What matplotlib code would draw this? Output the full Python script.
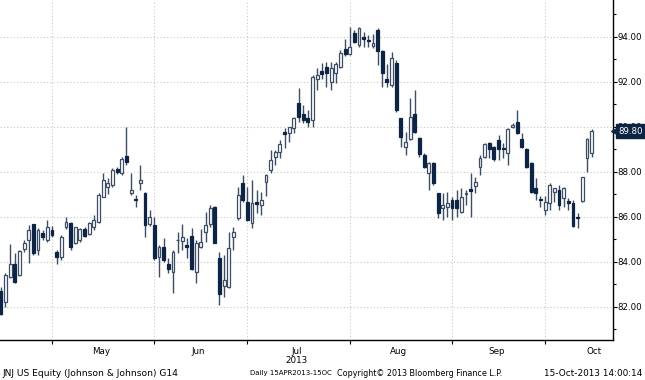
import numpy as np
import matplotlib
matplotlib.use('Agg')
import matplotlib.pyplot as plt
from matplotlib.ticker import MultipleLocator, FixedLocator, NullFormatter, FixedFormatter
import matplotlib.transforms as mtransforms

# Daily OHLC, JNJ US Equity, 15 Apr 2013 - 15 Oct 2013 (trading-day index)
opens = [83.0, 82.72, 82.23, 83.34, 83.9, 83.41, 84.55, 84.97, 85.66, 84.52,
         85.26, 84.97, 85.41, 84.45, 84.23, 85.53, 85.74, 84.82, 84.97, 85.44,
         85.23, 85.53, 85.78, 86.89, 87.3, 87.41, 88.1, 87.93, 88.7, 87.07,
         86.8, 87.48, 87.07, 85.68, 85.63, 84.23, 84.67, 83.9, 83.56, 84.95,
         84.94, 84.75, 85.15, 83.56, 84.67, 85.34, 85.7, 86.42, 84.15, 82.93,
         82.9, 85.12, 85.93, 87.48, 86.67, 85.71, 86.67, 86.52, 87.56, 88.08,
         88.64, 88.89, 89.78, 89.71, 89.92, 91.03, 90.56, 90.37, 90.3, 92.1,
         92.45, 92.63, 92.0, 92.37, 92.66, 93.43, 93.22, 94.17, 93.62, 94.0,
         93.85, 93.6, 94.3, 93.37, 92.1, 91.85, 92.81, 90.37, 89.11, 89.44,
         90.55, 89.48, 88.74, 87.93, 88.37, 87.04, 86.37, 86.44, 86.74, 86.74,
         86.22, 87.0, 87.24, 87.37, 88.22, 88.67, 89.29, 89.11, 89.41, 89.05,
         88.85, 90.0, 90.22, 89.44, 88.99, 88.4, 87.26, 86.8, 86.3, 86.6,
         87.12, 87.19, 86.82, 86.7, 86.6, 85.95, 86.7, 88.6, 88.82]
highs = [83.2, 82.9, 83.49, 84.8, 84.38, 84.52, 84.97, 85.63, 85.7, 85.49,
         85.41, 85.86, 85.6, 84.52, 85.19, 85.97, 85.78, 85.56, 85.5, 85.53,
         85.78, 86.08, 87.04, 87.93, 87.7, 88.15, 88.2, 88.67, 90.0, 87.96,
         86.96, 88.3, 87.1, 86.3, 86.0, 84.75, 85.04, 84.15, 84.52, 85.34,
         85.68, 85.05, 85.5, 84.97, 85.44, 86.22, 86.5, 86.48, 84.45, 84.3,
         85.34, 85.53, 87.33, 87.85, 87.3, 87.63, 87.2, 87.1, 87.9, 88.96,
         88.96, 89.4, 89.92, 90.0, 90.44, 91.7, 90.96, 90.74, 92.3, 92.6,
         92.84, 92.88, 92.88, 92.88, 93.4, 93.9, 94.44, 94.29, 94.44, 94.2,
         94.05, 94.1, 94.38, 93.4, 92.8, 93.33, 92.96, 90.37, 89.78, 91.26,
         91.63, 89.56, 88.82, 88.44, 88.44, 87.07, 87.04, 87.11, 86.89, 87.18,
         87.26, 87.18, 87.93, 87.78, 88.74, 89.26, 89.33, 89.14, 89.63, 89.26,
         89.93, 90.15, 90.74, 89.73, 89.04, 88.45, 87.7, 86.9, 86.9, 87.48,
         87.26, 87.41, 87.33, 86.82, 86.75, 86.15, 87.78, 89.48, 89.88]
lows = [82.5, 81.64, 82.0, 83.3, 83.04, 83.38, 84.45, 83.96, 84.3, 84.3,
        84.97, 84.89, 85.1, 83.9, 84.08, 85.44, 84.52, 84.79, 84.9, 85.08,
        85.19, 85.41, 85.74, 86.86, 87.0, 87.33, 87.9, 87.85, 88.3, 86.96,
        86.45, 87.19, 85.12, 85.59, 84.08, 83.34, 84.0, 83.49, 82.6, 84.37,
        84.52, 84.15, 83.64, 83.04, 84.6, 84.9, 85.56, 84.82, 82.08, 82.45,
        82.82, 84.52, 85.86, 86.67, 85.8, 85.49, 86.15, 86.08, 86.9, 87.93,
        88.3, 88.6, 89.04, 89.3, 89.7, 90.22, 90.15, 90.0, 90.0, 91.62,
        92.1, 91.77, 91.62, 91.92, 92.6, 93.13, 93.18, 93.7, 93.52, 93.55,
        93.55, 93.5, 92.75, 91.77, 91.77, 91.77, 90.66, 89.1, 88.74, 89.4,
        89.7, 88.67, 88.15, 87.18, 87.41, 85.93, 85.86, 86.0, 85.86, 86.0,
        86.15, 86.52, 86.0, 87.04, 87.85, 88.59, 88.6, 88.49, 88.52, 88.6,
        88.3, 89.93, 89.67, 89.04, 88.15, 87.04, 86.75, 86.45, 86.08, 86.3,
        86.67, 86.3, 86.45, 86.3, 85.56, 85.49, 86.67, 88.0, 88.67]
closes = [82.7, 81.68, 83.41, 83.9, 83.12, 84.49, 84.82, 85.41, 84.38, 85.41,
          85.09, 85.56, 85.19, 84.2, 85.12, 85.78, 84.64, 85.53, 85.44, 85.14,
          85.74, 85.86, 86.96, 87.63, 87.5, 88.07, 88.0, 88.55, 88.45, 87.19,
          86.75, 87.63, 85.63, 86.0, 84.15, 84.67, 84.08, 83.67, 84.45, 84.98,
          85.1, 84.65, 83.7, 84.85, 84.86, 85.63, 86.37, 84.85, 82.57, 83.2,
          84.6, 85.34, 86.96, 86.74, 85.86, 86.6, 86.57, 86.74, 87.85, 88.52,
          88.89, 89.23, 89.66, 89.97, 90.37, 90.44, 90.3, 90.22, 92.22, 92.3,
          92.35, 92.37, 92.6, 92.8, 93.25, 93.22, 93.52, 93.77, 94.36, 93.87,
          93.82, 93.7, 93.34, 92.36, 92.0, 93.03, 90.74, 89.55, 89.33, 90.44,
          89.74, 88.78, 88.22, 88.37, 87.48, 86.15, 86.52, 86.6, 86.37, 86.37,
          86.89, 87.05, 87.15, 87.56, 88.59, 89.23, 89.0, 88.55, 89.0, 89.0,
          89.88, 90.07, 89.7, 89.11, 88.22, 87.11, 87.07, 86.75, 86.67, 87.41,
          87.26, 86.52, 87.26, 86.6, 85.59, 85.93, 87.75, 89.44, 89.8]

months = ['May', 'Jun', 'Jul\n2013', 'Aug', 'Sep', 'Oct']
month_start = [12, 34, 54, 76, 98, 118]
month_days = [22, 20, 22, 22, 20, 22]
last_price = 89.80

NAVY = '#0e2444'
EDGE = '#3d4d63'
GRID = '#c8c8c8'


def main():
    o = np.array(opens)
    h = np.array(highs)
    l = np.array(lows)
    c = np.array(closes)
    x = np.arange(len(o))
    up = c >= o

    fig = plt.figure(figsize=(6.45, 3.8), dpi=100)
    ax = fig.add_axes([0, 40/380, 613/645, 340/380])

    # wicks
    ax.vlines(x, l, h, color=EDGE, linewidth=1.0, zorder=2)
    # bodies
    bot = np.minimum(o, c)
    hgt = np.maximum(np.abs(c - o), 0.04)
    ax.bar(x[up], hgt[up], bottom=bot[up], width=0.62, color='white',
           edgecolor=EDGE, linewidth=0.9, zorder=3)
    ax.bar(x[~up], hgt[~up], bottom=bot[~up], width=0.62, color=NAVY,
           edgecolor=NAVY, linewidth=0.9, zorder=3)

    ax.set_xlim(0.82, 132.6)
    ax.set_ylim(80.53, 95.62)

    # axes styling
    for s in ['left', 'top']:
        ax.spines[s].set_visible(False)
    ax.spines['right'].set_linewidth(1.0)
    ax.spines['bottom'].set_linewidth(1.0)
    ax.yaxis.tick_right()
    ax.yaxis.set_major_locator(MultipleLocator(2))
    ax.yaxis.set_minor_locator(MultipleLocator(1))
    ax.yaxis.set_major_formatter(matplotlib.ticker.FormatStrFormatter('%.2f'))
    ax.tick_params(axis='y', which='major', length=3, width=0.8, pad=0.5,
                   labelsize=6.2, direction='out')
    ax.tick_params(axis='y', which='minor', length=2, width=0.8, direction='out')

    centers = [s + (d - 1) / 2.0 for s, d in zip(month_start, month_days)]
    ax.xaxis.set_major_locator(FixedLocator(month_start))
    ax.xaxis.set_major_formatter(NullFormatter())
    ax.xaxis.set_minor_locator(FixedLocator(centers))
    ax.xaxis.set_minor_formatter(FixedFormatter(months))
    ax.tick_params(axis='x', which='major', length=3, width=0.8, direction='out')
    ax.tick_params(axis='x', which='minor', length=0, pad=5, labelsize=6.3)
    for lbl in ax.xaxis.get_minorticklabels():
        lbl.set_linespacing(1.05)

    ax.grid(True, which='major', color=GRID, linestyle=(0, (1, 2)), linewidth=0.8)
    ax.set_axisbelow(True)

    # last price tag
    trans = mtransforms.blended_transform_factory(ax.transAxes, ax.transData)
    ax.plot([1.002], [last_price], marker='<', color=NAVY, markersize=5,
            transform=trans, clip_on=False, zorder=5)
    ax.text(1.009, last_price, '%.2f' % last_price, transform=trans, color='white',
            fontsize=6.2, va='center', ha='left', zorder=6,
            bbox=dict(boxstyle='square,pad=0.25', facecolor=NAVY, edgecolor=NAVY))

    # footer
    yf = 1 - 373/380
    fig.text(2/645, yf, 'JNJ US Equity (Johnson & Johnson) G14',
             fontsize=6.6, va='center', ha='left')
    fig.text(250/645, yf, 'Daily 15APR2013-15OC',
             fontsize=5.0, va='center', ha='left')
    fig.text(337/645, yf, 'Copyright\u00a9 2013 Bloomberg Finance L.P.',
             fontsize=5.8, va='center', ha='left')
    fig.text(642/645, yf, '15-Oct-2013 14:00:14',
             fontsize=6.4, va='center', ha='right')

    plt.savefig('out.png', dpi=100)


if __name__ == "__main__":
    main()
